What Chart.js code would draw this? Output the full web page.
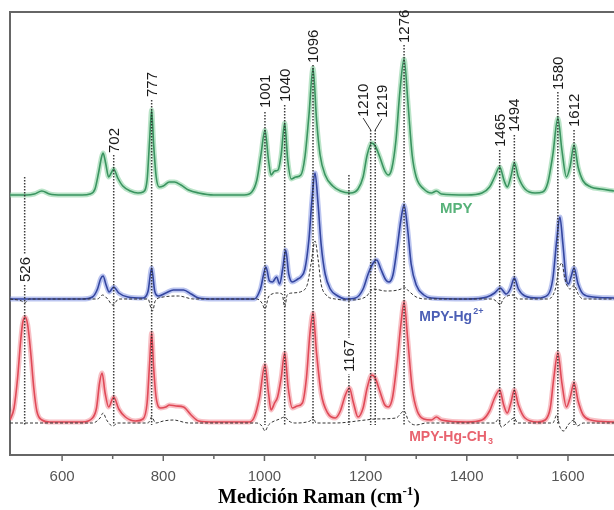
<!DOCTYPE html>
<html>
<head>
<meta charset="utf-8">
<script src="https://cdn.jsdelivr.net/npm/chart.js@4"></script>
<style>
  html, body { margin: 0; padding: 0; background: #fff; }
  #wrap { width: 614px; height: 510px; }
</style>
</head>
<body>
<div id="wrap"><canvas id="raman" width="614" height="510"></canvas></div>
<script>
// ===== Data (Raman shift in cm-1, intensity in arbitrary units) =====
const shiftTicks = [600, 800, 1000, 1200, 1400, 1600];
const minorTicks = [700, 900, 1100, 1300, 1500, 1700];

// MPY (green)
const mpyOffset = 260;
const mpyShift = [497, 530, 545, 560, 575, 600, 640, 655, 665, 672, 678, 681, 686, 692, 697, 702, 710, 720, 735, 750, 760, 768, 773, 777, 781, 786, 792, 800, 812, 822, 835, 850, 870, 900, 960, 975, 985, 993, 1001, 1008, 1013, 1020, 1027, 1033, 1040, 1046, 1053, 1062, 1072, 1080, 1088, 1096, 1103, 1110, 1120, 1135, 1150, 1170, 1185, 1195, 1203, 1212, 1219, 1228, 1238, 1245, 1252, 1260, 1268, 1276, 1284, 1292, 1300, 1315, 1330, 1340, 1350, 1400, 1430, 1445, 1455, 1465, 1474, 1480, 1487, 1494, 1502, 1515, 1535, 1550, 1560, 1570, 1580, 1588, 1597, 1604, 1612, 1620, 1630, 1645, 1665, 1691];
const mpyCounts = [0, 0, 1, 4, 1, 0, 0, 1, 6, 22, 38, 42, 32, 18, 22, 26, 17, 9, 4, 2, 3, 15, 55, 85, 50, 18, 8, 9, 13, 13, 10, 5, 2, 0, 0, 3, 15, 40, 65, 35, 20, 24, 25, 40, 72, 35, 16, 18, 20, 38, 80, 127, 75, 40, 20, 9, 4, 2, 6, 18, 40, 52, 49, 38, 24, 20, 27, 55, 105, 136, 90, 40, 18, 6, 2, 4, 1, 0, 2, 8, 18, 28, 14, 8, 18, 32, 18, 6, 2, 3, 12, 40, 77, 45, 18, 28, 50, 28, 14, 8, 6, 4];

// MPY-Hg2+ (blue) and its dashed trace
const hgOffset = 156;
const hgShift = [497, 640, 660, 670, 676, 681, 687, 693, 702, 712, 730, 760, 770, 777, 783, 790, 805, 820, 840, 855, 870, 900, 980, 992, 1003, 1010, 1016, 1024, 1030, 1036, 1042, 1048, 1055, 1066, 1072, 1080, 1088, 1094, 1100, 1106, 1112, 1120, 1130, 1145, 1160, 1180, 1195, 1205, 1215, 1222, 1230, 1240, 1246, 1254, 1262, 1270, 1276, 1283, 1290, 1300, 1315, 1330, 1400, 1440, 1455, 1466, 1478, 1486, 1494, 1502, 1515, 1540, 1560, 1570, 1578, 1584, 1590, 1596, 1601, 1606, 1612, 1620, 1630, 1650, 1691];
const hgCounts = [0, 0, 2, 10, 20, 23, 14, 7, 12, 6, 2, 1, 8, 31, 8, 3, 6, 9, 9, 5, 1, 0, 0, 10, 32, 18, 17, 22, 15, 30, 49, 25, 17, 20, 22, 30, 60, 100, 126, 95, 55, 25, 10, 3, 0, 1, 10, 25, 36, 39, 30, 19, 17, 24, 50, 80, 94, 70, 35, 14, 4, 1, 0, 2, 6, 11, 5, 10, 21, 10, 3, 1, 4, 20, 60, 82, 55, 22, 15, 22, 31, 15, 5, 2, 1];
const hgDiffShift = [497, 520, 526, 535, 670, 680, 690, 700, 712, 770, 775, 779, 784, 800, 830, 860, 985, 995, 1001, 1008, 1015, 1025, 1035, 1040, 1045, 1055, 1075, 1085, 1092, 1100, 1106, 1112, 1122, 1140, 1167, 1200, 1215, 1240, 1270, 1276, 1285, 1300, 1320, 1450, 1460, 1466, 1472, 1494, 1500, 1560, 1575, 1582, 1588, 1594, 1604, 1612, 1620, 1630, 1691];
const hgDiffCounts = [0, -2, -4, 0, 0, 4, 0, -6, 0, 0, -8, -12, -2, 2, 3, 0, 0, -4, -10, 2, 5, 6, 5, -8, 4, 6, 8, 15, 35, 58, 40, 15, 4, 0, -1, 2, 10, 8, 10, 12, 8, 2, 0, 0, -3, -6, 0, 4, 0, 0, 10, 30, 36, 20, 10, 14, 5, 0, 0];

// MPY-Hg-CH3 (red) and its dashed trace
const ch3Offset = 32;
const ch3Shift = [497, 505, 512, 518, 522, 527, 532, 538, 544, 550, 560, 575, 640, 660, 668, 674, 679, 685, 692, 702, 712, 725, 745, 760, 768, 773, 777, 781, 786, 795, 805, 812, 825, 840, 855, 870, 900, 970, 980, 990, 1001, 1008, 1013, 1020, 1026, 1033, 1040, 1047, 1055, 1065, 1075, 1083, 1090, 1096, 1103, 1112, 1125, 1140, 1150, 1160, 1168, 1176, 1185, 1195, 1203, 1212, 1219, 1228, 1238, 1245, 1253, 1262, 1270, 1276, 1283, 1292, 1302, 1315, 1330, 1340, 1350, 1400, 1430, 1445, 1455, 1465, 1473, 1480, 1487, 1494, 1502, 1515, 1540, 1555, 1565, 1572, 1580, 1588, 1597, 1604, 1612, 1620, 1630, 1645, 1691];
const ch3Counts = [3, 15, 45, 82, 100, 106, 98, 70, 35, 12, 3, 1, 1, 5, 15, 40, 50, 30, 16, 26, 14, 6, 2, 4, 20, 60, 90, 55, 25, 15, 16, 18, 17, 16, 8, 2, 1, 1, 6, 25, 58, 30, 13, 20, 26, 45, 70, 35, 15, 17, 20, 45, 90, 110, 70, 30, 10, 5, 12, 28, 35, 20, 6, 15, 35, 48, 45, 32, 18, 16, 25, 60, 100, 121, 85, 35, 12, 4, 3, 6, 3, 1, 3, 12, 25, 33, 18, 10, 20, 33, 18, 5, 1, 3, 15, 45, 70, 40, 16, 25, 40, 22, 8, 3, 1];
const ch3DiffShift = [497, 660, 675, 681, 688, 700, 710, 770, 777, 785, 800, 820, 850, 985, 995, 1001, 1008, 1030, 1040, 1048, 1060, 1090, 1096, 1102, 1140, 1200, 1220, 1260, 1276, 1285, 1300, 1320, 1455, 1463, 1468, 1480, 1494, 1500, 1570, 1578, 1584, 1592, 1600, 1612, 1618, 1630, 1691];
const ch3DiffCounts = [0, 0, 5, 10, 3, -3, 0, 0, 6, 0, 2, 3, 0, 0, -3, -8, -2, 4, 6, 2, 0, 2, 6, 0, 0, 3, 4, 5, 12, 2, -2, 0, 0, 4, -4, 0, 5, 0, 0, 8, -4, -8, -2, 3, -3, 0, 0];

// Marked peaks: line position, label anchor, label level and line top (intensity axis units)
const peakShifts = [526, 702, 777, 1001, 1040, 1096, 1167, 1210, 1219, 1276, 1465, 1494, 1580, 1612];
const peakLabelShifts = [526, 702, 777, 1001, 1040, 1096, 1167, 1195, 1232, 1276, 1465, 1494, 1580, 1612];
const peakLabelLevels = [173, 302, 358, 347, 353, 392, 83, 338, 337, 412, 308, 323, 365, 328];
const peakLineTops = [278, 300, 355, 343, 350, 390, 280, 325, 325, 410, 305, 320, 363, 325];
const peakLineBase = 30;

const toPoints = (xs, ys, off) => xs.map((x, i) => ({ x, y: ys[i] + off }));

// ===== Plugin: frame, ticks, peak markers, trace names, axis title =====
const decorations = {
    id: 'ramanDecor',
    beforeDatasetsDraw(chart) {
        const { ctx, chartArea } = chart;
        ctx.save();
        ctx.strokeStyle = '#666';
        ctx.lineWidth = 2;
        ctx.beginPath();
        ctx.moveTo(chartArea.right + 2, chartArea.top);
        ctx.lineTo(chartArea.left, chartArea.top);
        ctx.lineTo(chartArea.left, chartArea.bottom);
        ctx.lineTo(chartArea.right + 2, chartArea.bottom);
        ctx.stroke();
        // ticks pointing outwards
        const xs = chart.scales.x;
        ctx.lineWidth = 1.5;
        shiftTicks.forEach(v => {
            const px = xs.getPixelForValue(v);
            ctx.beginPath(); ctx.moveTo(px, chartArea.bottom); ctx.lineTo(px, chartArea.bottom + 6); ctx.stroke();
        });
        minorTicks.forEach(v => {
            const px = xs.getPixelForValue(v);
            if (px > chartArea.right) return;
            ctx.beginPath(); ctx.moveTo(px, chartArea.bottom); ctx.lineTo(px, chartArea.bottom + 4); ctx.stroke();
        });
        ctx.restore();
    },
    afterDatasetsDraw(chart) {
        const { ctx } = chart;
        const xs = chart.scales.x, ys = chart.scales.y;
        ctx.save();
        ctx.font = '15px "Liberation Sans", Arial, sans-serif';
        peakShifts.forEach((v, i) => {
            const lx = xs.getPixelForValue(v);
            const tx = xs.getPixelForValue(peakLabelShifts[i]);
            const top = ys.getPixelForValue(peakLineTops[i]);
            const base = ys.getPixelForValue(peakLineBase);
            const labelBottom = ys.getPixelForValue(peakLabelLevels[i]);
            const text = String(v);
            const tw = ctx.measureText(text).width;

            // dotted marker line
            ctx.strokeStyle = 'rgba(40,40,40,0.9)';
            ctx.lineWidth = 1.5;
            ctx.setLineDash([1.5, 1.5]);
            ctx.beginPath(); ctx.moveTo(lx, top); ctx.lineTo(lx, base); ctx.stroke();
            ctx.setLineDash([]);

            // leader for shifted labels
            if (Math.abs(tx - lx) > 1) {
                ctx.strokeStyle = '#333';
                ctx.lineWidth = 1;
                ctx.beginPath(); ctx.moveTo(tx, labelBottom + 1); ctx.lineTo(lx, top); ctx.stroke();
            }

            // label sits on the line: clear a gap behind it
            if (labelBottom > top) {
                ctx.fillStyle = '#fff';
                ctx.fillRect(tx - 7, labelBottom - tw - 2, 14, tw + 4);
            }

            ctx.save();
            ctx.translate(tx, labelBottom);
            ctx.rotate(-Math.PI / 2);
            ctx.fillStyle = '#1a1a1a';
            ctx.textAlign = 'left';
            ctx.textBaseline = 'middle';
            ctx.fillText(text, 0, 1);
            ctx.restore();
        });

        // trace names
        const bold = px => `bold ${px}px "Liberation Sans", Arial, sans-serif`;
        ctx.textBaseline = 'middle';
        ctx.textAlign = 'center';
        ctx.font = bold(15);
        ctx.fillStyle = '#58b27a';
        ctx.fillText('MPY', xs.getPixelForValue(1379), ys.getPixelForValue(246));

        ctx.textAlign = 'left';
        let x0 = xs.getPixelForValue(1306), y0 = ys.getPixelForValue(138);
        ctx.font = bold(14);
        ctx.fillStyle = '#4c5fb5';
        ctx.fillText('MPY-Hg', x0, y0);
        let w = ctx.measureText('MPY-Hg').width;
        ctx.font = bold(9);
        ctx.fillText('2+', x0 + w + 1, y0 - 5);

        x0 = xs.getPixelForValue(1286); y0 = ys.getPixelForValue(18);
        ctx.font = bold(14);
        ctx.fillStyle = '#e8636f';
        ctx.fillText('MPY-Hg-CH', x0, y0);
        w = ctx.measureText('MPY-Hg-CH').width;
        ctx.font = bold(9);
        ctx.fillText('3', x0 + w + 1, y0 + 5);

        // x-axis title
        const main = 'Medición Raman (cm';
        const big = 'bold 20px "Liberation Serif", "Times New Roman", serif';
        const small = 'bold 13px "Liberation Serif", "Times New Roman", serif';
        ctx.font = big;
        const w1 = ctx.measureText(main).width;
        const w3 = ctx.measureText(')').width;
        ctx.font = small;
        const w2 = ctx.measureText('-1').width;
        const total = w1 + w2 + w3;
        const cx = 319, by = 503;
        const sx = cx - total / 2;
        ctx.fillStyle = '#000';
        ctx.textBaseline = 'alphabetic';
        ctx.font = big;
        ctx.fillText(main, sx, by);
        ctx.font = small;
        ctx.fillText('-1', sx + w1, by - 8);
        ctx.font = big;
        ctx.fillText(')', sx + w1 + w2, by);
        ctx.restore();
    }
};

const lineBase = { pointRadius: 0, cubicInterpolationMode: 'monotone', fill: false };
function trace(xs, ys, off, color, halo) {
    return [
        { ...lineBase, data: toPoints(xs, ys, off), borderColor: halo, borderWidth: 5, order: 4 },
        { ...lineBase, data: toPoints(xs, ys, off), borderColor: color, borderWidth: 1.6, order: 2 }
    ];
}

new Chart(document.getElementById('raman'), {
    type: 'line',
    data: {
        datasets: [
            ...trace(mpyShift, mpyCounts, mpyOffset, '#3a9460', 'rgba(130,205,155,0.55)'),
            ...trace(hgShift, hgCounts, hgOffset, '#3446a0', 'rgba(120,140,225,0.5)'),
            ...trace(ch3Shift, ch3Counts, ch3Offset, '#e04a58', 'rgba(242,130,140,0.5)'),
            { ...lineBase, data: toPoints(hgDiffShift, hgDiffCounts, hgOffset), borderColor: '#333', borderWidth: 1, borderDash: [3, 2], order: 1 },
            { ...lineBase, data: toPoints(ch3DiffShift, ch3DiffCounts, ch3Offset), borderColor: '#333', borderWidth: 1, borderDash: [3, 2], order: 1 }
        ]
    },
    options: {
        responsive: false,
        animation: false,
        layout: { padding: { left: 10, top: 12, right: 0, bottom: 15 } },
        plugins: { legend: { display: false }, tooltip: { enabled: false } },
        scales: {
            x: {
                type: 'linear',
                min: 497,
                max: 1691,
                grid: { display: false, drawTicks: false },
                border: { display: false },
                afterBuildTicks: scale => { scale.ticks = shiftTicks.map(v => ({ value: v })); },
                afterFit: scale => { scale.height = 40; },
                ticks: {
                    autoSkip: false,
                    maxRotation: 0,
                    padding: 13,
                    color: '#555',
                    callback: v => String(v),
                    font: { family: '"Liberation Sans", Arial, sans-serif', size: 15 }
                }
            },
            y: { display: false, min: 0, max: 443 }
        }
    },
    plugins: [decorations]
});
</script>
</body>
</html>
